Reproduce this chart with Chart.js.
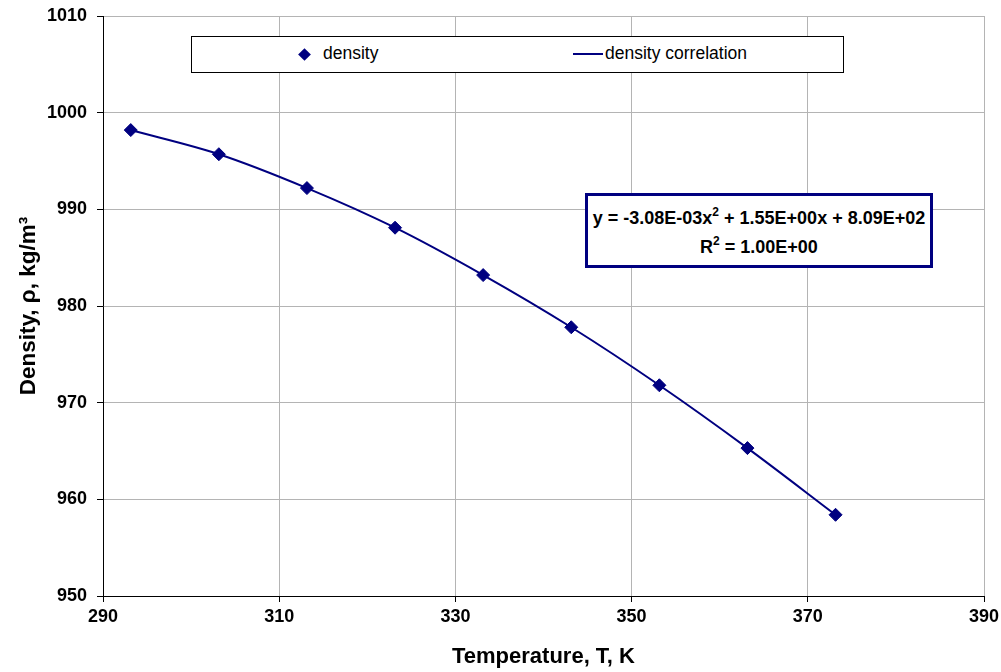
<!DOCTYPE html>
<html>
<head>
<meta charset="utf-8">
<script src="https://cdn.jsdelivr.net/npm/chart.js@4.4.1/dist/chart.umd.min.js"></script>
<style>
  body { margin: 0; background: #fff; }
  #wrap { position: relative; width: 1001px; height: 672px; font-family: "Liberation Sans", Arial, sans-serif; }
  #chart { position: absolute; left: 0; top: 0; }
  .legend { position: absolute; left: 191px; top: 36px; width: 651px; height: 35px; border: 1px solid #000; background: #fff; font-size: 17.5px; }
  .legend .dia { position: absolute; left: 108px; top: 13px; width: 9px; height: 9px; background: #000080; transform: rotate(45deg); }
  .legend .lbl1 { position: absolute; left: 131px; top: 6px; }
  .legend .ln { position: absolute; left: 381px; top: 16px; width: 30px; height: 2px; background: #000080; }
  .legend .lbl2 { position: absolute; left: 413px; top: 6px; }
  .eq { position: absolute; left: 585px; top: 193px; width: 342px; height: 69px; border: 3px solid #000080; background: #fff;
        font-weight: bold; font-size: 18px; text-align: center; }
  .eq div { position: absolute; left: 0; right: 0; line-height: 22px; }
  .eq sup { font-size: 12px; line-height: 0; vertical-align: 8px; }
</style>
</head>
<body>
<div id="wrap">
  <canvas id="chart" width="1001" height="672"></canvas>
  <div class="legend">
    <div class="dia"></div><span class="lbl1">density</span>
    <div class="ln"></div><span class="lbl2">density correlation</span>
  </div>
  <div class="eq">
    <div style="top:11px">y = -3.08E-03x<sup>2</sup> + 1.55E+00x + 8.09E+02</div>
    <div style="top:40px">R<sup>2</sup> = 1.00E+00</div>
  </div>
</div>
<script>
// measured points
const temps = [293.15, 303.15, 313.15, 323.15, 333.15, 343.15, 353.15, 363.15, 373.15]
const density = [998.2, 995.7, 992.2, 988.1, 983.2, 977.8, 971.8, 965.3, 958.4]
// correlation curve
const corrTemps = [293.15, 303.15, 313.15, 323.15, 333.15, 343.15, 353.15, 363.15, 373.15]
const corrDensity = [998.2, 995.7, 992.2, 988.1, 983.2, 977.8, 971.8, 965.3, 958.4]

const xTicks = [290, 310, 330, 350, 370, 390]
const yTicks = [950, 960, 970, 980, 990, 1000, 1010]

const navy = '#000080'
const tickFont = {family: 'Liberation Sans', size: 18, weight: 'bold'}
const titleFont = {family: 'Liberation Sans', size: 22, weight: 'bold'}

const bgPlugin = {
    id: 'bg',
    beforeDraw(chart) {
        const ctx = chart.ctx
        ctx.save()
        ctx.fillStyle = '#fff'
        ctx.fillRect(0, 0, chart.width, chart.height)
        ctx.restore()
    }
}

new Chart(document.getElementById('chart'), {
    type: 'scatter',
    data: {
        datasets: [{
            label: 'density correlation',
            type: 'line',
            data: corrTemps.map((t, i) => ({x: t, y: corrDensity[i]})),
            borderColor: navy,
            borderWidth: 2,
            pointRadius: 0,
            cubicInterpolationMode: 'monotone',
            fill: false,
            order: 2
        }, {
            label: 'density',
            data: temps.map((t, i) => ({x: t, y: density[i]})),
            backgroundColor: navy,
            borderColor: navy,
            pointStyle: 'rectRot',
            pointRadius: 6.5,
            order: 1
        }]
    },
    options: {
        responsive: false,
        animation: false,
        layout: {padding: {top: 16, right: 17, bottom: 2, left: 0}},
        plugins: {legend: {display: false}, tooltip: {enabled: false}},
        scales: {
            x: {
                type: 'linear',
                min: 290, max: 390,
                afterBuildTicks: s => { s.ticks = xTicks.map(v => ({value: v})) },
                afterFit: s => { s.height = 74; s.paddingLeft = 0; s.paddingRight = 0 },
                grid: {color: '#b4b4b4', lineWidth: 1, tickLength: 6, tickColor: '#000'},
                border: {color: '#000', width: 1},
                ticks: {font: tickFont, color: '#000', padding: 4, maxRotation: 0, callback: v => String(v)},
                title: {display: true, text: 'Temperature, T, K', font: titleFont, color: '#000', padding: {top: 0, bottom: 0}}
            },
            y: {
                min: 950, max: 1010,
                afterBuildTicks: s => { s.ticks = yTicks.map(v => ({value: v})) },
                afterFit: s => { s.width = 103; s.paddingTop = 0; s.paddingBottom = 0 },
                grid: {color: '#b4b4b4', lineWidth: 1, tickLength: 6, tickColor: '#000'},
                border: {color: '#000', width: 1},
                ticks: {font: tickFont, color: '#000', padding: 10, callback: v => String(v)},
                title: {display: true, text: 'Density, ρ, kg/m³', font: {family: 'Liberation Sans', size: 22.5, weight: 'bold'}, color: '#000', padding: {top: 15, bottom: 0}}
            }
        }
    },
    plugins: [bgPlugin]
})
</script>
</body>
</html>
